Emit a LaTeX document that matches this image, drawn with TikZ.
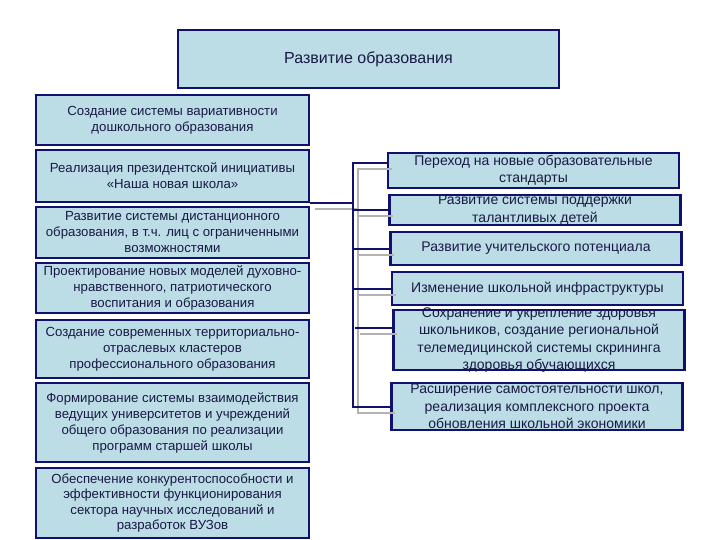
\documentclass[tikz,border=0pt]{standalone}
\usepackage{fontspec}
\setmainfont{Liberation Sans}
\definecolor{boxfill}{RGB}{188,221,229}
\definecolor{boxline}{RGB}{16,16,110}
\definecolor{txt}{RGB}{25,25,70}
\definecolor{shadow}{RGB}{178,178,178}
\tikzset{
  blok/.style={draw=boxline, line width=2.5pt, fill=boxfill, text=txt,
    align=center, inner xsep=2pt, inner ysep=0pt},
  lblok/.style={blok, minimum width=273pt, font=\fontsize{13.2}{16}\selectfont},
  rblok/.style={blok, minimum width=291pt, font=\fontsize{14}{17.5}\selectfont}
}
\begin{document}
\begin{tikzpicture}[x=1pt, y=-1pt]
        \useasboundingbox (0,0) rectangle (720,540);

        % Заголовок
        \node[blok, minimum width=381pt, minimum height=58pt, font=\fontsize{16}{19}\selectfont] (top) at (368.5,59) {Развитие образования};

        % Левая колонка
        \node[lblok, minimum height=50pt] (L1) at (172.5,120) {Создание системы вариативности\\дошкольного образования};
        \node[lblok, minimum height=52pt] (L2) at (172.5,176) {Реализация президентской инициативы\\«Наша новая школа»};
        \node[lblok, minimum height=51pt] (L3) at (172.5,232.5) {Развитие системы дистанционного\\образования, в т.ч. лиц с ограниченными\\возможностями};
        \node[lblok, minimum height=50pt] (L4) at (172.5,288) {Проектирование новых моделей духовно-\\нравственного, патриотического\\воспитания и образования};
        \node[lblok, minimum height=58pt] (L5) at (172.5,349) {Создание современных территориально-\\отраслевых кластеров\\профессионального образования};
        \node[lblok, minimum height=79pt] (L6) at (172.5,422.5) {Формирование системы взаимодействия\\ведущих университетов и учреждений\\общего образования по реализации\\программ старшей школы};
        \node[lblok, minimum height=70pt, font=\fontsize{13.2}{15.2}\selectfont] (L7) at (172.5,503) {Обеспечение конкурентоспособности и\\эффективности функционирования\\сектора научных исследований и\\разработок ВУЗов};

        % Правая колонка
        \node[rblok, minimum height=35pt] (R1) at (533.5,170.5) {Переход на новые образовательные\\стандарты};
        \node[rblok, minimum height=30pt, inner ysep=-1pt] (R2) at (535,210) {Развитие системы поддержки\\талантливых детей};
        \node[rblok, minimum height=33pt] (R3) at (536,248.5) {Развитие учительского потенциала};
        \node[rblok, minimum height=33pt] (R4) at (537.5,288.5) {Изменение школьной инфраструктуры};
        \node[rblok, minimum height=60pt, inner ysep=-3pt] (R5) at (539,340) {Сохранение и укрепление здоровья\\школьников, создание региональной\\телемедицинской системы скрининга\\здоровья обучающихся};
        \node[rblok, minimum height=47pt, inner ysep=-1pt] (R6) at (537,406.5) {Расширение самостоятельности школ,\\реализация комплексного проекта\\обновления школьной экономики};

        % Шина связей
        \coordinate (bus) at (353,0);

        % Связи: серая тень, затем синие линии
        \foreach \col/\dx/\dy in {shadow/5/6, boxline/0/0}{
          \begin{scope}[transform canvas={shift={(\dx,\dy)}}, line width=2pt, draw=\col]
            \draw (L2.south east) -- (L2.south east -| bus);
            \draw ([yshift=7.5pt]R1.west) -| (R6.west -| bus) -- (R6.west);
            \draw (R2.west -| bus) -- (R2.west);
            \draw (R3.west -| bus) -- (R3.west);
            \draw (R4.west -| bus) -- (R4.west);
            \draw ([yshift=12pt]R5.west) -- ++(-37,0);
          \end{scope}
        }
    \end{tikzpicture}
\end{document}
